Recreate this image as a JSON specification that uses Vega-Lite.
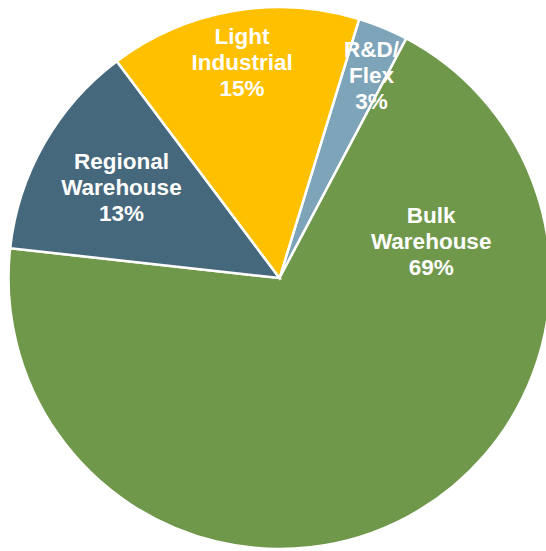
{
  "$schema": "https://vega.github.io/schema/vega-lite/v6.json",
  "width": 559,
  "height": 556,
  "padding": 0,
  "autosize": "none",
  "background": "white",
  "view": {"stroke": null},
  "data": {
    "values": [
      {"cat": "R&D/ Flex", "pct": 3, "rank": 1},
      {"cat": "Bulk Warehouse", "pct": 69, "rank": 2},
      {"cat": "Regional Warehouse", "pct": 13, "rank": 3},
      {"cat": "Light Industrial", "pct": 15, "rank": 4}
    ]
  },
  "transform": [
    {"calculate": "datum.cat + ' ' + datum.pct + '%'", "as": "label"}
  ],
  "encoding": {
    "theta": {"field": "pct", "type": "quantitative", "stack": true, "scale": {"range": [0.2985, 6.5817]}},
    "order": {"field": "rank", "type": "quantitative", "sort": "ascending"}
  },
  "layer": [
    {
      "mark": {"type": "arc", "radius": 271, "stroke": "white", "strokeWidth": 2.5},
      "encoding": {
        "color": {
          "field": "cat", "type": "nominal", "legend": null,
          "scale": {
            "domain": ["R&D/ Flex", "Bulk Warehouse", "Regional Warehouse", "Light Industrial"],
            "range": ["#7DA4B9", "#70984B", "#46687C", "#FFC000"]
          }
        }
      }
    },
    {
      "mark": {"type": "text", "radius": 218, "dy": -26, "font": "Liberation Sans", "fontWeight": "bold", "fontSize": 22.5, "lineHeight": 26, "lineBreak": " ", "color": "white", "align": "center", "baseline": "middle"},
      "encoding": {"text": {"condition": {"test": "datum.cat === 'Light Industrial'", "field": "label"}, "value": ""}}
    },
    {
      "mark": {"type": "text", "radius": 222, "thetaOffset": 0.035, "dy": -26, "font": "Liberation Sans", "fontWeight": "bold", "fontSize": 22.5, "lineHeight": 26, "lineBreak": " ", "color": "white", "align": "center", "baseline": "middle"},
      "encoding": {"text": {"condition": {"test": "datum.cat === 'R&D/ Flex'", "field": "label"}, "value": ""}}
    },
    {
      "mark": {"type": "text", "radius": 182, "dy": -26, "font": "Liberation Sans", "fontWeight": "bold", "fontSize": 22.5, "lineHeight": 26, "lineBreak": " ", "color": "white", "align": "center", "baseline": "middle"},
      "encoding": {"text": {"condition": {"test": "datum.cat === 'Regional Warehouse'", "field": "label"}, "value": ""}}
    },
    {
      "mark": {"type": "text", "radius": 156, "thetaOffset": -1.32, "dy": -26, "font": "Liberation Sans", "fontWeight": "bold", "fontSize": 22.5, "lineHeight": 26, "lineBreak": " ", "color": "white", "align": "center", "baseline": "middle"},
      "encoding": {"text": {"condition": {"test": "datum.cat === 'Bulk Warehouse'", "field": "label"}, "value": ""}}
    }
  ]
}
